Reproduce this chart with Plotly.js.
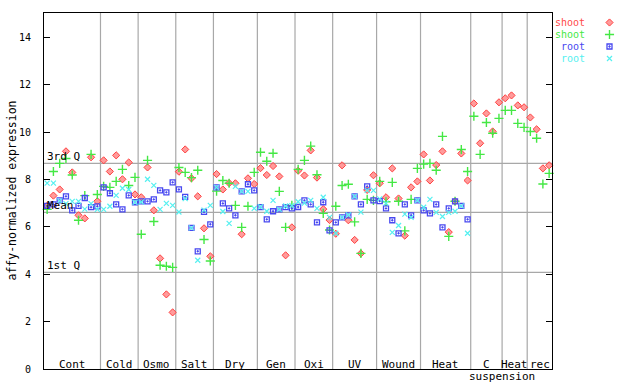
<!DOCTYPE html>
<html><head><meta charset="utf-8">
<script src="https://cdn.plot.ly/plotly-3.0.1.min.js"></script>
<style>body{margin:0;background:#fff}#chart{width:640px;height:384px}</style>
</head><body><div id="chart"></div>
<script>
// ---- data ----
const groupLabels = ['Cont','Cold','Osmo','Salt','Dry','Gen','Oxi','UV','Wound','Heat','C','Heat','rec'];
const groupSizes  = [9,6,6,6,7,6,6,7,7,8,5,4,4];
const subLabel = 'suspension';

const shootRed = [
  6.89,7.32,7.58,9.19,8.30,6.49,6.36,8.94,7.08,
  8.81,8.34,9.02,8.01,8.72,7.37,
  7.25,8.51,6.70,4.67,3.15,2.39,
  8.33,9.27,8.05,7.29,5.94,4.76,
  8.23,7.58,7.85,7.84,5.69,8.05,7.81,
  8.48,8.19,8.57,8.13,4.80,5.98,
  8.37,8.17,9.23,8.08,6.75,6.29,
  5.71,8.60,6.28,5.45,4.88,7.56,8.18,
  7.84,7.25,8.47,7.20,5.63,7.67,7.92,
  9.06,7.96,8.61,9.19,5.78,7.08,9.10,7.96,
  11.21,9.53,10.79,10.03,11.26,
  11.43,11.55,11.13,11.05,
  10.62,10.12,8.47,8.60
];
const shootGreen = [
  6.74,8.34,8.68,8.89,8.19,6.28,7.32,9.06,7.37,
  7.71,7.67,7.92,8.43,7.75,8.09,
  5.69,8.81,6.23,4.38,4.34,4.29,
  8.51,8.30,8.08,8.39,5.47,4.56,
  7.51,7.96,7.84,6.91,5.98,6.87,8.30,
  9.15,8.77,9.11,7.50,5.98,6.91,
  8.43,8.81,9.41,8.20,6.57,5.87,
  6.87,7.75,7.80,6.21,4.88,7.16,7.12,
  7.92,7.06,7.88,7.08,5.83,7.16,8.47,
  8.65,8.68,8.39,9.82,5.60,7.08,9.27,8.34,
  10.67,9.06,10.41,9.95,10.58,
  10.92,10.92,10.37,10.20,
  10.03,9.74,7.81,8.26
];
const rootBlue = [
  6.89,6.95,7.12,7.29,6.70,6.89,7.22,6.83,6.87,
  7.67,7.42,6.95,6.74,7.33,7.04,
  7.08,7.08,7.16,7.54,7.46,7.88,
  7.58,7.27,5.96,4.97,6.63,6.11,
  7.67,6.99,6.78,6.49,7.50,7.80,7.54,
  6.83,6.32,6.66,6.74,6.83,6.78,
  6.84,7.12,6.95,6.19,7.04,5.85,
  6.19,6.40,6.49,7.29,6.95,7.71,7.12,
  7.09,6.78,6.28,5.73,6.95,6.49,7.12,
  6.70,6.57,6.95,5.98,6.78,7.08,6.89,6.32
];
const rootCyan = [
  7.85,7.85,7.10,6.98,7.08,7.08,6.75,6.98,6.74,
  6.74,6.87,7.33,7.63,7.58,7.04,
  7.05,8.01,7.75,6.74,6.99,6.91,
  6.63,7.19,5.96,4.59,6.71,6.91,
  7.67,6.65,6.15,7.71,7.50,7.50,6.78,
  6.85,6.66,7.12,6.74,6.88,6.90,
  7.06,7.00,7.12,6.78,7.25,6.40,
  5.73,6.40,6.50,7.29,6.62,7.54,7.54,
  7.18,7.00,5.77,6.06,6.54,6.40,7.12,
  6.83,7.16,6.61,6.44,6.61,6.66,6.89,5.73
];
const q3Value = 8.68;
const meanValue = 6.61;
const q1Value = 4.08;
const refLabels = ['3rd Q','Mean','1st Q'];
const yTicks = [0,2,4,6,8,10,12,14];
const seriesNames = ['shoot','shoot','root','root'];

// ---- styles ----
const colors = ['#ff4a4a','#44e844','#4848f0','#55f0f0'];
const symbols = ['diamond','cross-thin-open','square-open-dot','x-thin-open'];
const mono = 'DejaVu Sans Mono, monospace';

// ---- geometry (pixels) ----
const W=640,H=384,L=44,R=10,T=13,B=15;
const pw=W-L-R, ph=H-T-B;
const plotRightPx=552.3;
const xDomEnd=(plotRightPx-L)/pw;
const nSamples=groupSizes.reduce((a,b)=>a+b,0);
const px2x = p => (p-L)/pw;
const py2y = p => (H-B-p)/ph;

function idx(n){return Array.from({length:n},(_,i)=>i+0.5);}

function markerFor(k){
  const m={symbol:symbols[k],color:colors[k],size:5,line:{color:colors[k],width:1}};
  if(k===0){m.color='rgba(255,130,130,0.8)';m.size=5.5;m.line={color:'#ff4040',width:1};}
  if(k===1){m.size=6.5;m.line={color:colors[k],width:1.4};}
  if(k===2){m.size=5;m.line={color:colors[k],width:1.3};}
  if(k===3){m.size=5;m.line={color:colors[k],width:1.2};}
  return m;
}

const seriesData=[shootRed,shootGreen,rootBlue,rootCyan];
const traces=seriesData.map((d,k)=>({
  type:'scatter',mode:'markers',x:idx(d.length),y:d,name:seriesNames[k],
  marker:markerFor(k),cliponaxis:false,hoverinfo:'skip'
}));

// legend (text left, symbol right)
const legRows=[22.5,34.5,46.5,58.5];
seriesNames.forEach((n,k)=>{
  traces.push({type:'scatter',mode:'markers',x:[609.5],y:[legRows[k]],xaxis:'x2',yaxis:'y2',
    marker:markerFor(k),cliponaxis:false,hoverinfo:'skip'});
});

// shapes
const shapes=[];
let acc=0;
const centers=[];
groupSizes.forEach((s,i)=>{
  centers.push(acc+s/2);
  acc+=s;
  if(i<groupSizes.length-1){
    shapes.push({type:'line',layer:'below',xref:'x',yref:'paper',x0:acc,x1:acc,y0:0,y1:1,
      line:{color:'#a8a8a8',width:1.2}});
  }
});
[q3Value,meanValue,q1Value].forEach(v=>{
  shapes.push({type:'line',layer:'below',xref:'x',yref:'y',x0:0,x1:nSamples,y0:v,y1:v,
    line:{color:'#a8a8a8',width:1.2}});
});

// annotations
const ann=[];
groupLabels.forEach((g,i)=>{
  ann.push({xref:'x',yref:'paper',x:centers[i],y:py2y(364.5),text:g,showarrow:false,
    xanchor:'center',yanchor:'middle',font:{family:mono,size:11,color:'black'}});
});
ann.push({xref:'x',yref:'paper',x:groupSizes.slice(0,11).reduce((a,b)=>a+b,0),y:py2y(376.7),text:subLabel,
  showarrow:false,xanchor:'center',yanchor:'middle',font:{family:mono,size:11,color:'black'}});
[q3Value,meanValue,q1Value].forEach((v,i)=>{
  ann.push({xref:'paper',yref:'y',x:px2x(44.5),y:v,text:refLabels[i],showarrow:false,
    xanchor:'left',yanchor:'bottom',yshift:-2,font:{family:mono,size:11,color:'black'}});
});
ann.push({xref:'paper',yref:'paper',x:px2x(11.7),y:py2y(190.8),text:'affy-normalized expression',
  textangle:-90,showarrow:false,xanchor:'center',yanchor:'middle',font:{family:mono,size:11.5,color:'black'}});
seriesNames.forEach((n,k)=>{
  ann.push({xref:'x2',yref:'y2',x:586,y:legRows[k],text:n,showarrow:false,xanchor:'right',yanchor:'middle',
    borderpad:0,font:{family:mono,size:10,color:colors[k]}});
});

const x2start=L+(xDomEnd+0.004)*pw;
const layout={
  width:W,height:H,margin:{l:L,r:R,t:T,b:B},paper_bgcolor:'white',plot_bgcolor:'white',showlegend:false,
  xaxis:{domain:[0,xDomEnd],range:[0,nSamples],showgrid:false,zeroline:false,showticklabels:false,ticks:'',
    showline:true,linecolor:'black',linewidth:1,mirror:true,fixedrange:true},
  yaxis:{range:[0,15.03],tickvals:yTicks,ticktext:yTicks.map(String),ticks:'inside',ticklen:6,tickcolor:'black',
    showline:true,linecolor:'black',linewidth:1,mirror:'allticks',showgrid:false,zeroline:false,
    tickfont:{family:mono,size:10,color:'black'},ticklabelstandoff:10,fixedrange:true},
  xaxis2:{domain:[xDomEnd+0.004,1],range:[x2start,L+pw],anchor:'y2',visible:false,fixedrange:true},
  yaxis2:{domain:[0,1],range:[H-B,T],anchor:'x2',visible:false,fixedrange:true},
  shapes:shapes,annotations:ann
};
Plotly.newPlot('chart',traces,layout,{staticPlot:true,displayModeBar:false});
</script>
</body></html>
